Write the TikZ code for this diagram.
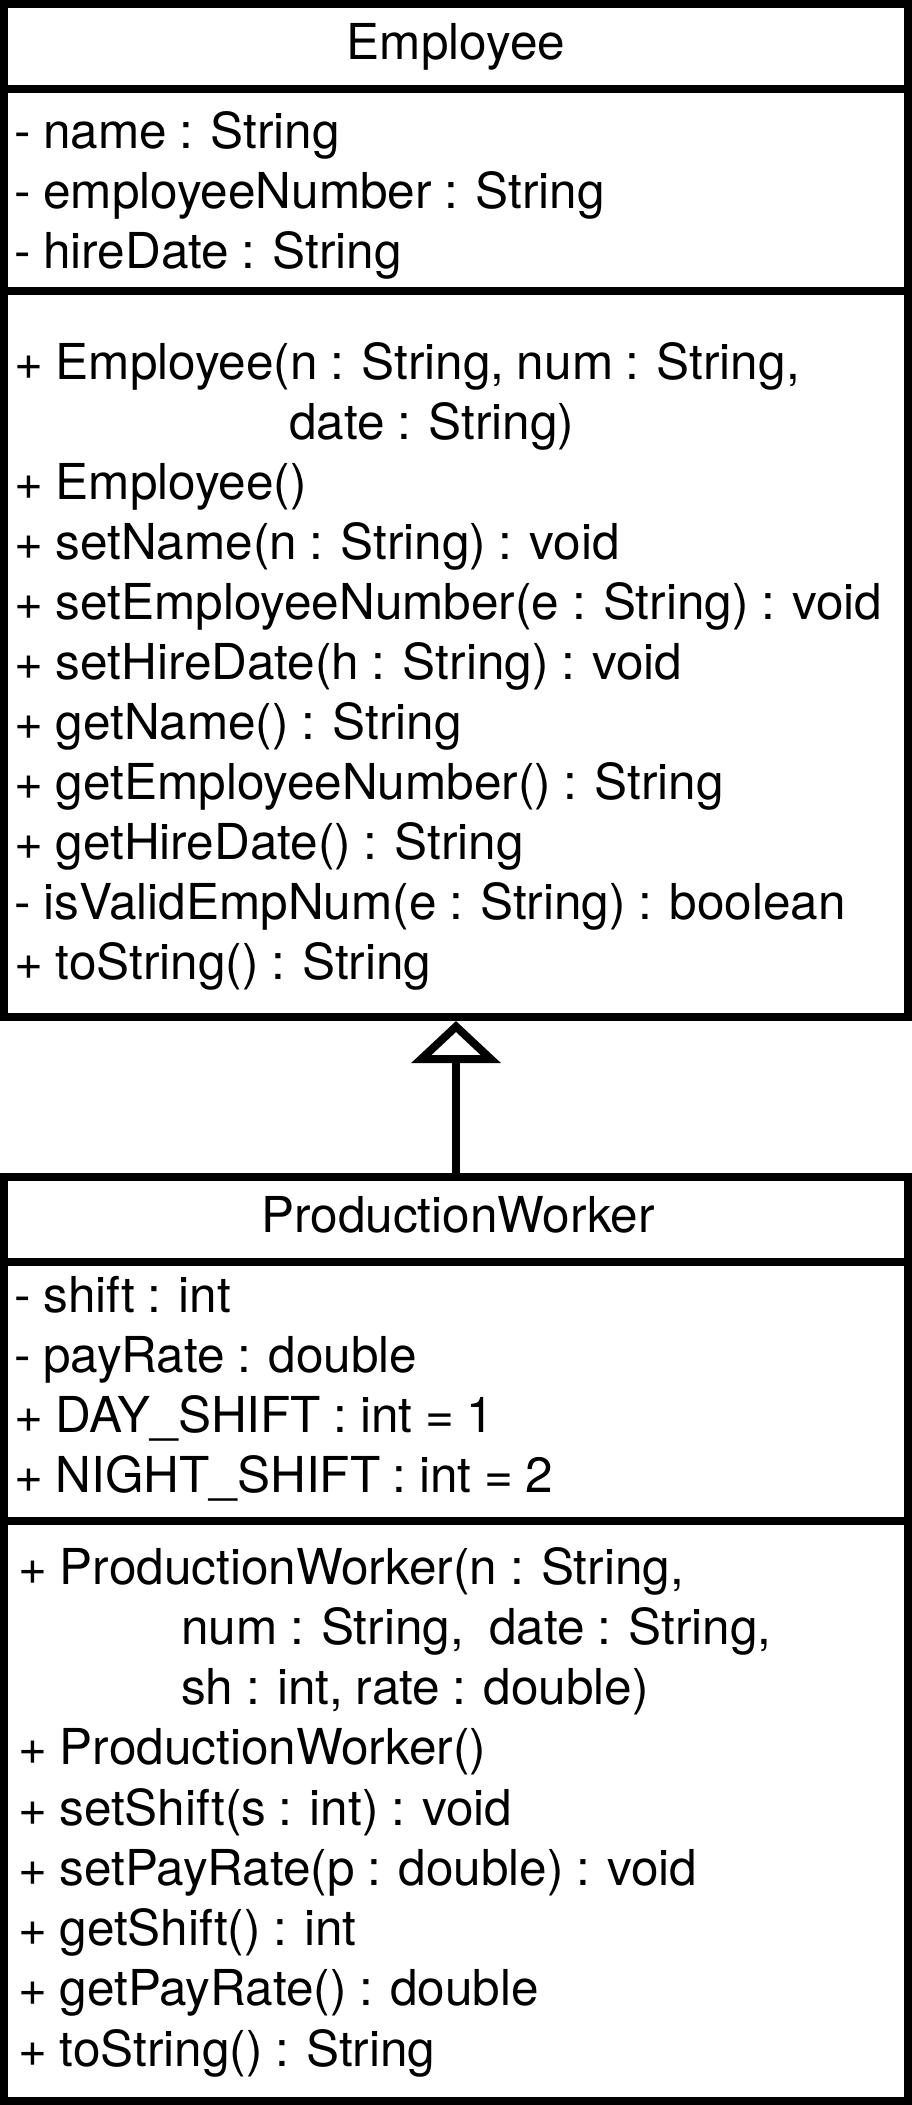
\documentclass[tikz,border=0pt]{standalone}
\usepackage{fontspec}
\setmainfont{TeX Gyre Heros}[WordSpace=0.92]
\usetikzlibrary{arrows.meta,calc}

\newcommand{\umlfont}{\fontsize{49.5}{60}\selectfont}

\tikzset{
  classbox/.style={draw, line width=8pt, inner sep=0pt, outer sep=0pt,
    anchor=north west, minimum width=904pt},
  classline/.style={line width=8pt},
  classname/.style={anchor=base, inner sep=0pt, font=\umlfont},
  member/.style={anchor=base west, inner sep=0pt, font=\umlfont},
  inherit/.style={line width=8pt, -{Triangle[open, length=42pt, width=88pt]}}
}

\begin{document}
\begin{tikzpicture}[x=1pt, y=-1pt]
  \useasboundingbox (0,0) rectangle (912,2105);
  % class boxes
  \node[classbox, minimum height=1013pt] (emp) at (4,4) {};
  \node[classbox, minimum height=924pt] (pw) at (4,1177) {};
  % compartment lines
  \draw[classline] ([yshift=-85pt]emp.north west) -- ([yshift=-85pt]emp.north east);
  \draw[classline] ([yshift=-287pt]emp.north west) -- ([yshift=-287pt]emp.north east);
  \draw[classline] ([yshift=-85pt]pw.north west) -- ([yshift=-85pt]pw.north east);
  \draw[classline] ([yshift=-344pt]pw.north west) -- ([yshift=-344pt]pw.north east);
  % class names
  \node[classname] (emp-name) at (456,59) {Employee};
  \node[classname] (pw-name) at (458,1232) {ProductionWorker};
  % Employee fields
  \foreach \txt [count=\i from 0] in {{- name : String}, {- employeeNumber : String},
      {- hireDate : String}} {
    \node[member] (emp-attr-\i) at (14, 148+60*\i) {\txt};
  }
  % Employee operations
  \foreach \txt [count=\i from 0] in {{+ Employee(n : String, num : String,},
      {\hspace*{275pt}date : String)}, {+ Employee()},
      {+ setName(n : String) : void}, {+ setEmployeeNumber(e : String) : void},
      {+ setHireDate(h : String) : void}, {+ getName() : String},
      {+ getEmployeeNumber() : String}, {+ getHireDate() : String},
      {- isValidEmpNum(e : String) : boolean}, {+ toString() : String}} {
    \node[member] (emp-op-\i) at (14, 379+60*\i) {\txt};
  }
  % ProductionWorker fields
  \foreach \txt [count=\i from 0] in {{- shift : int}, {- payRate : double},
      {+ DAY\_SHIFT : int = 1}, {+ NIGHT\_SHIFT : int = 2}} {
    \node[member] (pw-attr-\i) at (14, 1312+60.3*\i) {\txt};
  }
  % ProductionWorker operations
  \foreach \txt [count=\i from 0] in {{+ ProductionWorker(n : String,},
      {\hspace*{163pt}num : String,~ date : String,},
      {\hspace*{163pt}sh : int, rate : double)}, {+ ProductionWorker()},
      {+ setShift(s : int) : void}, {+ setPayRate(p : double) : void},
      {+ getShift() : int}, {+ getPayRate() : double}, {+ toString() : String}} {
    \node[member] (pw-op-\i) at (18, 1584+60.25*\i) {\txt};
  }
  % generalization
  \draw[inherit] (pw.north) -- ([yshift=-4pt]emp.south);
\end{tikzpicture}
\end{document}
